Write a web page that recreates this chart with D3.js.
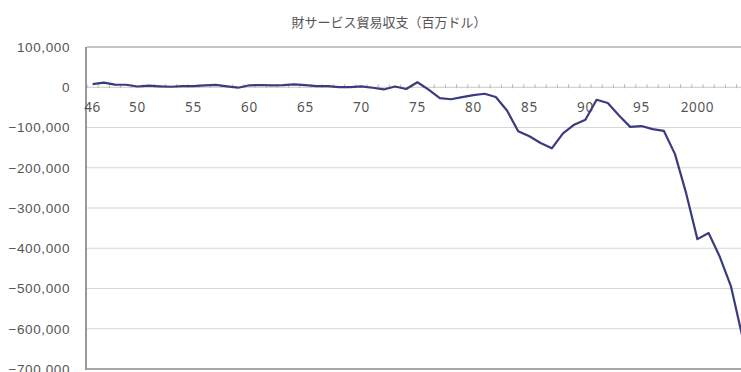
<!DOCTYPE html>
<html>
<head>
<meta charset="utf-8">
<script src="https://cdn.jsdelivr.net/npm/d3@7"></script>
<style>
  body { margin: 0; background: #fff; }
  svg { display: block; font-family: "Noto Sans", "Noto Sans CJK JP", sans-serif; }
</style>
</head>
<body>
<div id="chart"></div>
<script>
// trade balance of goods and services, million dollars
var years = d3.range(1946, 2005);
var balance = [
  7807, 11617, 6518, 6218, 1892, 3817, 2356, 1286, 2574, 2897,
  4753, 5902, 2263, -1148, 4892, 5571, 4521, 5224, 7142, 5431,
  3031, 2583, 250, 91, 2254, -1302, -5443, 1900, -4293, 12404,
  -6082, -27246, -29763, -24565, -19407, -16172, -24156, -57767, -109072, -121880,
  -138538, -151684, -114566, -93141, -80864, -31135, -39212, -70311, -98493, -96384,
  -104065, -108273, -166140, -263755, -377337, -362339, -421218, -494814, -617583
];
var yTicks = [100000, 0, -100000, -200000, -300000, -400000, -500000, -600000, -700000];
var xLabelYears = [1946, 1950, 1955, 1960, 1965, 1970, 1975, 1980, 1985, 1990, 1995, 2000];
var title = "財サービス貿易収支（百万ドル）";

// note: "top" is a reserved window property, so use plot* names
var W = 741, H = 372;
var plotLeft = 87, plotTop = 47, plotBottom = 369, bandW = 11.2;

var svg = d3.select('#chart').append('svg')
  .attr('width', W).attr('height', H);

var x = d3.scaleBand().domain(years).range([plotLeft, plotLeft + years.length * bandW]);
var y = d3.scaleLinear().domain([-700000, 100000]).range([plotBottom, plotTop]);

// title
svg.append('text')
  .attr('x', 389).attr('y', 27)
  .attr('text-anchor', 'middle')
  .style('font-size', '13px')
  .style('fill', '#555')
  .text(title);

// gridlines
svg.append('g').selectAll('line')
  .data(yTicks.filter(function(d){ return d < 0 && d > -700000; }))
  .enter().append('line')
  .attr('x1', plotLeft).attr('x2', W)
  .attr('y1', function(d){ return y(d); })
  .attr('y2', function(d){ return y(d); })
  .style('stroke', '#d6d6d6').style('stroke-width', 1.2);

// frame: top, bottom, left
svg.append('line').attr('x1', plotLeft).attr('x2', W).attr('y1', y(100000)).attr('y2', y(100000))
  .style('stroke', '#b0b0b0').style('stroke-width', 1.5);
svg.append('line').attr('x1', plotLeft).attr('x2', W).attr('y1', y(-700000)).attr('y2', y(-700000))
  .style('stroke', '#a8a8a8').style('stroke-width', 2);

// zero line with ticks at category edges
svg.append('line').attr('x1', plotLeft).attr('x2', W).attr('y1', y(0)).attr('y2', y(0))
  .style('stroke', '#c8c8c8').style('stroke-width', 1);
svg.append('g').selectAll('line')
  .data(years.concat([2005]))
  .enter().append('line')
  .attr('x1', function(d){ return plotLeft + (d - 1946) * bandW; })
  .attr('x2', function(d){ return plotLeft + (d - 1946) * bandW; })
  .attr('y1', y(0) - 3).attr('y2', y(0) + 1)
  .style('stroke', '#b8b8b8').style('stroke-width', 1);

svg.append('line').attr('x1', plotLeft - 1).attr('x2', plotLeft - 1).attr('y1', plotTop).attr('y2', plotBottom + 1)
  .style('stroke', '#777').style('stroke-width', 1.5);

// y axis labels
var yAxis = d3.axisLeft(y).tickValues(yTicks).tickSize(0).tickPadding(17)
  .tickFormat(d3.format(','));
var gy = svg.append('g').attr('transform', 'translate(' + plotLeft + ',0)').call(yAxis);
gy.select('.domain').remove();
gy.selectAll('text').style('font-size', '13.5px').style('fill', '#555')
  .style('letter-spacing', '0.6px');

// x labels
svg.append('g').selectAll('text')
  .data(xLabelYears)
  .enter().append('text')
  .attr('x', function(d){ return x(d) + x.bandwidth() / 2; })
  .attr('y', 112)
  .attr('text-anchor', 'middle')
  .style('font-size', '13.5px').style('fill', '#555')
  .style('letter-spacing', '0.6px')
  .text(function(d){ return d >= 2000 ? String(d) : String(d).slice(2); });

// line
var line = d3.line()
  .x(function(d, i){ return x(years[i]) + x.bandwidth() / 2; })
  .y(function(d){ return y(d); });
svg.append('path')
  .datum(balance)
  .attr('d', line)
  .style('fill', 'none')
  .style('stroke', '#3b3b7f')
  .style('stroke-width', 2.2)
  .style('stroke-linejoin', 'round');
</script>
</body>
</html>
